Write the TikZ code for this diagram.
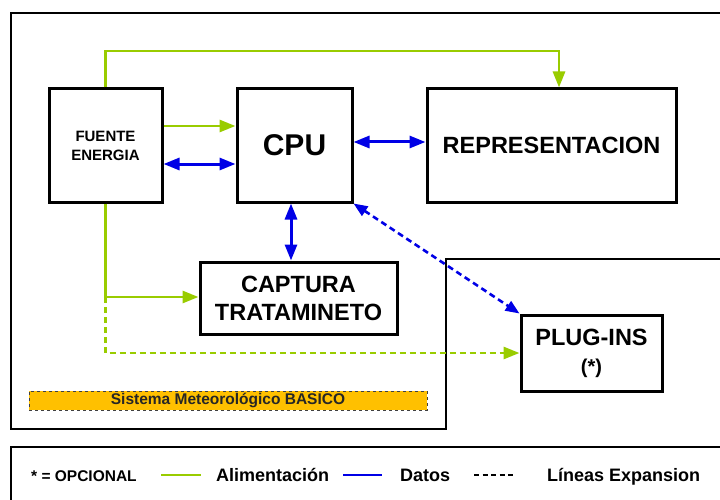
\documentclass[tikz,border=0pt]{standalone}
\usepackage{fontspec}
\setmainfont{Liberation Sans}
\usetikzlibrary{arrows.meta}
\definecolor{gr}{HTML}{99CC00}
\definecolor{bl}{HTML}{0000E6}
\definecolor{gold}{HTML}{FFC000}
\begin{document}
\begin{tikzpicture}[x=1pt,y=-1pt,
  box/.style={draw, line width=3pt, inner sep=0pt, align=center, font=\bfseries},
  frameline/.style={line width=2.6pt, line join=miter},
  legframe/.style={line width=2pt},
  gline/.style={draw=gr, line width=2.8pt},
  garrow/.style={gline, -{Triangle[length=16pt,width=12pt]}},
  gdash/.style={garrow, dash pattern=on 6pt off 4pt},
  barrow/.style={draw=bl, line width=3pt, {Triangle[length=16pt,width=12pt]}-{Triangle[length=16pt,width=12pt]}},
  bdash/.style={draw=bl, line width=2.6pt, dash pattern=on 6pt off 4pt, {Triangle[length=14pt,width=11pt]}-{Triangle[length=14pt,width=11pt]}},
  legtxt/.style={inner sep=0pt, anchor=base west, font=\fontsize{18}{21}\selectfont\bfseries},
  banner/.style={draw=black!75, fill=gold, dashed, line width=0.9pt, inner sep=0pt, minimum width=398, minimum height=19, font=\fontsize{15.5}{18}\selectfont\bfseries, text=black!85}
]
\useasboundingbox (0,0) rectangle (720,500);
\clip (0,0) rectangle (720,500);
\fill[white] (0,0) rectangle (720,500);

% frames
\draw[frameline] (730,13) -- (11,13) -- (11,429) -- (446,429) -- (446,259) -- (730,259);
\draw[legframe] (730,447) -- (11,447) -- (11,510);

% boxes
\node[box, minimum width=113, minimum height=113, font=\fontsize{15}{19}\selectfont\bfseries] (fuente) at (105.5,145.5) {FUENTE\\ENERGIA};
\node[box, minimum width=115, minimum height=113, font=\fontsize{30}{34}\selectfont\bfseries] (cpu) at (294.5,145.5) {CPU};
\node[box, minimum width=249, minimum height=113, font=\fontsize{23.5}{28}\selectfont\bfseries] (rep) at (551.5,145.5) {REPRESENTACION};
\node[box, minimum width=197, minimum height=72, font=\fontsize{23.5}{28}\selectfont\bfseries] (cap) at (298.5,298) {CAPTURA\\TRATAMINETO};
\node[box, minimum width=141, minimum height=76, font=\fontsize{23.5}{28}\selectfont\bfseries] (plug) at (591.5,353) {PLUG-INS\\{\fontsize{20}{24}\selectfont (*)}};
\node[banner] (ban) at (228,400.5) {Sistema Meteorológico BASICO};

% green power lines
\coordinate (rt) at (559,51);
\draw[garrow] (fuente.north) |- (rt) -- (rt |- rep.north);
\draw[garrow] (fuente.east |- 0,126) -- (cpu.west |- 0,126);
\coordinate (j) at (105.5,297);
\draw[gline] (fuente.south) -- (j);
\draw[garrow] (j) -- (cap.west |- j);
\draw[gdash] (j) |- (plug.west);

% blue data lines
\draw[barrow] (fuente.east |- 0,164) -- (cpu.west |- 0,164);
\draw[barrow] (cpu.east |- 0,142) -- (rep.west |- 0,142);
\draw[barrow] (cpu.south -| 291,0) -- (cap.north -| 291,0);
\draw[bdash] (cpu.south east) -- (plug.north west);

% legend
\node[legtxt, font=\fontsize{15.5}{18}\selectfont\bfseries] (opc) at (31,481) {* = OPCIONAL};
\coordinate (g1) at (161,475); \coordinate (g2) at (201,475);
\draw[gline] (g1) -- (g2);
\node[legtxt] (ali) at (216,481) {Alimentación};
\coordinate (b1) at (343,475); \coordinate (b2) at (382,475);
\draw[draw=bl, line width=2.8pt] (b1) -- (b2);
\node[legtxt] (dat) at (400,481) {Datos};
\coordinate (d1) at (474,475); \coordinate (d2) at (515,475);
\draw[line width=2.4pt, dash pattern=on 5pt off 3.5pt] (d1) -- (d2);
\node[legtxt] (lin) at (547,481) {Líneas Expansion};
\end{tikzpicture}
\end{document}
